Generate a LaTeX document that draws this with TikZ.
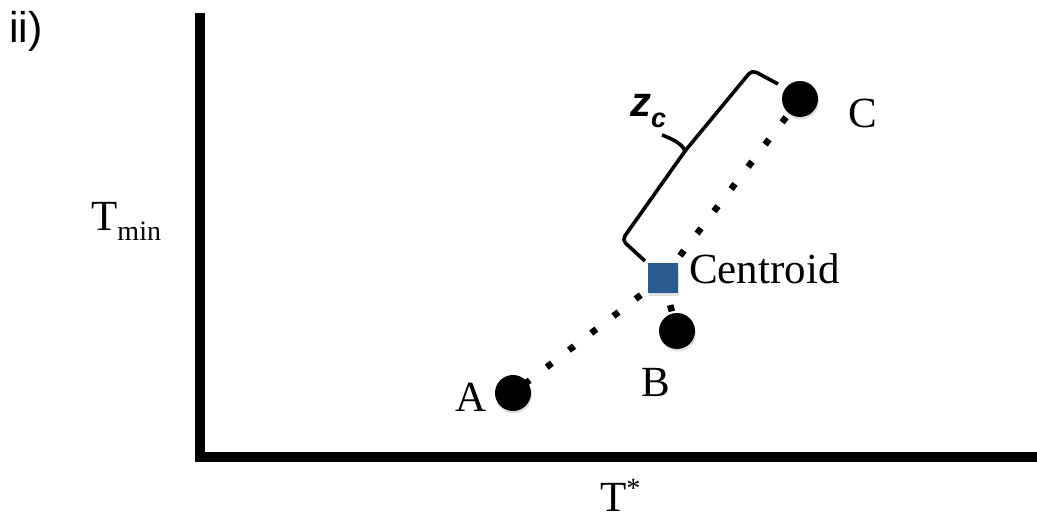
\documentclass[tikz,border=0pt]{standalone}
\usepackage{fontspec}
\setmainfont{Liberation Serif}
\newfontfamily\labsans{Liberation Sans}
\usetikzlibrary{shadows}
\definecolor{cenblue}{RGB}{40,92,145}
\tikzset{
  axisline/.style={line width=10pt, line cap=rect},
  pointdot/.style={circle, fill=black, minimum size=36pt, inner sep=0pt,
    drop shadow={opacity=0.25, shadow xshift=1pt, shadow yshift=-2.5pt}},
  cenbox/.style={rectangle, fill=cenblue, minimum size=30pt, inner sep=0pt,
    drop shadow={opacity=0.25, shadow xshift=1pt, shadow yshift=-2.5pt}},
  dotline/.style={line width=6.5pt, dash pattern=on 6.5pt off 21.5pt},
  bracestyle/.style={line width=3.6pt, rounded corners=5pt},
  serlab/.style={inner sep=0pt, anchor=base west, font=\fontsize{43}{50}\selectfont},
  sanslab/.style={inner sep=0pt, anchor=base west, font=\labsans\fontsize{43}{48}\selectfont}
}
\begin{document}
\begin{tikzpicture}[x=1pt,y=-1pt]
\useasboundingbox (0,0) rectangle (1037,519);
% axes
\coordinate (ytop) at (200,18);
\coordinate (orig) at (200,457);
\coordinate (xend) at (1040,457);
\draw[axisline] (ytop) -- (orig) -- (xend);
% dotted connectors (drawn first)
\coordinate (pA) at (513,393);
\coordinate (pB) at (677,331);
\coordinate (pC) at (800,99);
\coordinate (pcen) at (663,278);
\draw[dotline] (pcen) -- (pA);
\draw[dotline] (pcen) -- (pC);
\draw[dotline] (pcen) -- (pB);
% points
\node[pointdot] (A) at (pA) {};
\node[pointdot] (B) at (pB) {};
\node[pointdot] (C) at (pC) {};
\node[cenbox] (cen) at (pcen) {};
% brace
\coordinate (b1) at (645,261);
\coordinate (b2) at (622,240);
\coordinate (bj) at (685,151);
\coordinate (b3) at (752,70);
\coordinate (b4) at (778,84);
\coordinate (btip) at (662,135);
\draw[bracestyle] (b1) -- (b2) -- (bj) -- (b3) -- (b4);
\draw[line width=3.6pt] (btip) .. controls (678,141) and (683,146) .. (bj);
% labels
\node[sanslab] (lii) at (9,43) {ii)};
\node[serlab] (lA) at (455,411) {A};
\node[serlab] (lB) at (641,396) {B};
\node[serlab] (lC) at (848,128) {C};
\node[serlab] (lcen) at (689,283) {Centroid};
\node[serlab] (lTmin) at (91,230) {T\raisebox{-10pt}{\fontsize{28}{30}\selectfont min}};
\node[serlab] (lTs) at (600,511) {T\raisebox{14pt}{\fontsize{28}{30}\selectfont *}};
\node[sanslab, font=\labsans\bfseries\itshape\fontsize{42}{46}\selectfont] (lz) at (630,117) {z\raisebox{-11pt}{\fontsize{27}{30}\selectfont c}};
\end{tikzpicture}
\end{document}
